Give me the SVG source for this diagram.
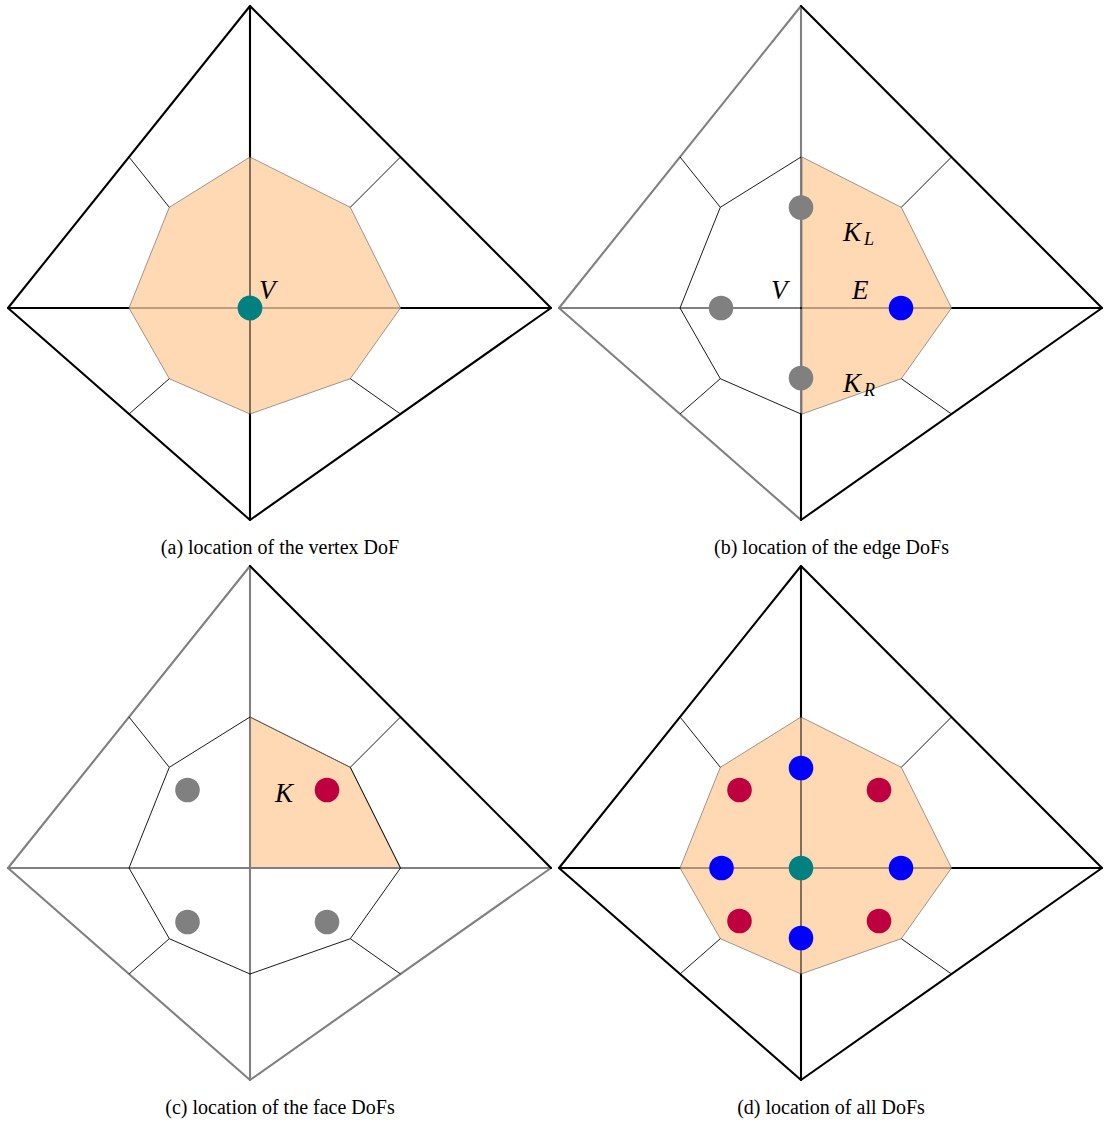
<svg xmlns="http://www.w3.org/2000/svg" width="1106" height="1122" viewBox="0 0 1106 1122">
<style>
.thk{stroke-width:2.1;fill:none;stroke-linecap:round;stroke-linejoin:round}
.blk{stroke:#000}
.gry{stroke:#808080}
.thin{stroke:#000;stroke-width:0.9;fill:none}
.inner{stroke-width:1;fill:none}
.shade{fill:#FFD9B3;stroke:#5a5a5a;stroke-width:0.6}
.dgray{fill:#808080}
.dblue{fill:#0000FF}
.dteal{fill:#008080}
.dred{fill:#BF0040}
.math{font-family:"Liberation Serif","DejaVu Serif",serif;font-style:italic;font-size:27px;fill:#000}
.sub{font-family:"Liberation Serif","DejaVu Serif",serif;font-style:italic;font-size:18px;fill:#000}
.cap{font-family:"Liberation Serif","DejaVu Serif",serif;font-size:20px;fill:#000;text-anchor:middle}
</style>
<defs>
<path id="spokes" d="M169.3,207.3 L129,157 M350.3,207.3 L400.5,157 M169.3,378.7 L129,414 M350.3,378.7 L400.5,414"/>
<polygon id="oct" points="250,157 350.3,207.3 400.5,308 350.3,378.7 250,414 169.3,378.7 129,308 169.3,207.3"/>
</defs>

<!-- Panel (a) -->
<g id="panel-a">
<g id="a-mesh">
<polygon class="thk blk" points="250,6 551,308 250,520 8,308"/>
<line class="thk blk" x1="250" y1="6" x2="250" y2="520"/>
<line class="thk blk" x1="8" y1="308" x2="551" y2="308"/>
</g>
<g id="a-cell"><use href="#oct" class="shade"/></g>
<g id="a-connectors">
<line class="inner" stroke="#000" x1="250" y1="157" x2="250" y2="414"/>
<line class="inner" stroke="#7a6655" x1="129" y1="308" x2="400.5" y2="308"/>
<use href="#spokes" class="thin"/>
</g>
<g id="a-dof"><circle class="dteal" cx="250" cy="308" r="12.4"/></g>
<text class="math" x="259" y="299">V</text>
<text class="cap" x="280" y="554">(a) location of the vertex DoF</text>
</g>

<!-- Panel (b) -->
<g id="panel-b" transform="translate(551,0)">
<g id="b-mesh">
<line class="thk gry" x1="250" y1="6" x2="8" y2="308"/>
<line class="thk gry" x1="8" y1="308" x2="250" y2="520"/>
<line class="thk gry" x1="250" y1="6" x2="250" y2="414"/>
<line class="thk gry" x1="8" y1="308" x2="250" y2="308"/>
<line class="thk blk" x1="250" y1="6" x2="551" y2="308"/>
<line class="thk blk" x1="551" y1="308" x2="250" y2="520"/>
<line class="thk blk" x1="250" y1="308" x2="551" y2="308"/>
<line class="thk blk" x1="250" y1="414" x2="250" y2="520"/>
</g>
<g id="b-cell"><polygon class="shade" points="251,157 350.3,207.3 400.5,308 350.3,378.7 251,414"/></g>
<g id="b-connectors">
<line class="inner" stroke="#6e5e50" x1="251" y1="308" x2="400.5" y2="308"/>
<polyline class="thin" points="250,157 169.3,207.3 129,308 169.3,378.7 250,414"/>
<use href="#spokes" class="thin"/>
</g>
<g id="b-dofs">
<circle class="dgray" cx="250" cy="207.5" r="12.3"/>
<circle class="dgray" cx="170" cy="308" r="12.3"/>
<circle class="dgray" cx="250" cy="378" r="12.3"/>
<circle class="dblue" cx="350" cy="308" r="12.3"/>
</g>
<text class="math" x="292" y="241">K</text><text class="sub" x="313" y="245">L</text>
<text class="math" x="220" y="299">V</text>
<text class="math" x="301" y="299">E</text>
<text class="math" x="292" y="392">K</text><text class="sub" x="313" y="396">R</text>
<text class="cap" x="280.5" y="554">(b) location of the edge DoFs</text>
</g>

<!-- Panel (c) -->
<g id="panel-c" transform="translate(0,560)">
<g id="c-cell"><polygon class="shade" points="250,157 350.3,207.3 400.5,308 250,308"/></g>
<g id="c-mesh">
<line class="thk gry" x1="250" y1="6" x2="8" y2="308"/>
<line class="thk gry" x1="8" y1="308" x2="250" y2="520"/>
<line class="thk gry" x1="250" y1="520" x2="551" y2="308"/>
<line class="thk gry" x1="250" y1="6" x2="250" y2="520"/>
<line class="thk gry" x1="8" y1="308" x2="551" y2="308"/>
<line class="thk blk" x1="250" y1="6" x2="551" y2="308"/>
</g>
<g id="c-connectors">
<polyline class="thin" points="350.3,207.3 400.5,308 350.3,378.7 250,414 169.3,378.7 129,308 169.3,207.3 250,157"/>
<line class="inner" stroke="#5a5a5a" stroke-width="0.6" x1="250" y1="157" x2="350.3" y2="207.3"/>
<use href="#spokes" class="thin"/>
</g>
<g id="c-dofs">
<circle class="dgray" cx="187.5" cy="230" r="12.3"/>
<circle class="dred" cx="327" cy="230" r="12.3"/>
<circle class="dgray" cx="187.5" cy="362" r="12.3"/>
<circle class="dgray" cx="327" cy="362" r="12.3"/>
</g>
<text class="math" x="275" y="242">K</text>
<text class="cap" x="280" y="554">(c) location of the face DoFs</text>
</g>

<!-- Panel (d) -->
<g id="panel-d" transform="translate(551,560)">
<g id="d-mesh">
<polygon class="thk blk" points="250,6 551,308 250,520 8,308"/>
<line class="thk blk" x1="250" y1="6" x2="250" y2="520"/>
<line class="thk blk" x1="8" y1="308" x2="551" y2="308"/>
</g>
<g id="d-cell"><use href="#oct" class="shade"/></g>
<g id="d-connectors">
<line class="inner" stroke="#000" x1="250" y1="157" x2="250" y2="414"/>
<line class="inner" stroke="#5a4d40" x1="129" y1="308" x2="400.5" y2="308"/>
<use href="#spokes" class="thin"/>
</g>
<g id="d-dofs">
<circle class="dblue" cx="250" cy="208" r="12.3"/>
<circle class="dblue" cx="170.5" cy="308" r="12.3"/>
<circle class="dblue" cx="350" cy="308" r="12.3"/>
<circle class="dblue" cx="250" cy="378" r="12.3"/>
<circle class="dteal" cx="250" cy="308" r="12.3"/>
<circle class="dred" cx="188.5" cy="230" r="12.3"/>
<circle class="dred" cx="328" cy="230" r="12.3"/>
<circle class="dred" cx="188.5" cy="361" r="12.3"/>
<circle class="dred" cx="328" cy="361" r="12.3"/>
</g>
<text class="cap" x="280" y="554">(d) location of all DoFs</text>
</g>
</svg>
